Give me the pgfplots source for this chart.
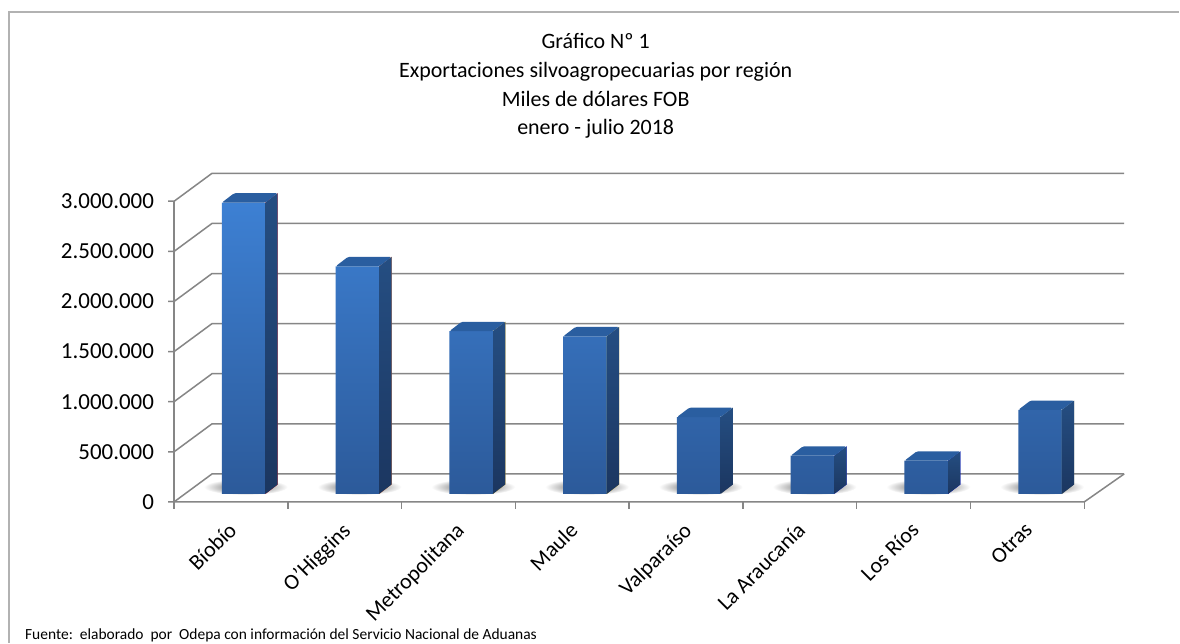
\documentclass[border=0pt]{standalone}
\usepackage{pgfplots}
\pgfplotsset{compat=1.18}
\usepackage{pgfplotstable}
\usepackage{fontspec}
\setmainfont{Carlito}
\usetikzlibrary{calc}

\definecolor{gridgray}{RGB}{134,134,134}
\definecolor{frontTop}{RGB}{61,128,211}
\definecolor{frontBot}{RGB}{44,90,154}
\definecolor{sideTop}{RGB}{37,78,130}
\definecolor{sideBot}{RGB}{27,54,96}
\definecolor{capBlue}{RGB}{42,94,160}

% miles de dolares FOB, enero-julio 2018
\pgfplotstableread{
x v
0 2907000
1 2271000
2 1624000
3 1572000
4 766000
5 381000
6 331000
7 838000
}\exportdata

% bar height in pt from the value (axis: 3.000.000 = 301.3pt)
\newcommand\barheight{%
  \pgfkeys{/pgf/fpu=true,/pgf/fpu/output format=fixed}%
  \pgfmathparse{\barval/3000000*301.3}%
  \let\h\pgfmathresult
  \pgfkeys{/pgf/fpu=false}%
}

\pgfdeclareplotmark{barshadow}{%
  \barheight
  \shade[draw=none, inner color=black!70, outer color=white] (2pt,7pt-\h pt) ellipse [x radius=42pt, y radius=8pt];
}

\pgfdeclareplotmark{barside}{%
  \barheight
  \fill[draw=none, top color=sideTop, bottom color=sideBot] (21.85pt,0pt) -- (34.15pt,9.4pt) -- (34.15pt,9.4pt-\h pt) -- (21.85pt,-\h pt) -- cycle;
  \fill[draw=none, fill=capBlue, rounded corners=1.5pt] (-21.85pt,0pt) -- (21.85pt,0pt) -- (34.15pt,9.4pt) -- (-9.55pt,9.4pt) -- cycle;
}

\pgfplotsset{
  barplane/.style={
    at={(187.2pt,147pt)}, anchor=south west,
    scale only axis, width=912.2pt, height=301.3pt,
    xmin=-0.5, xmax=7.5, ymin=0, ymax=3000000,
    hide axis, clip=false,
  },
}

\begin{document}
\begin{tikzpicture}[gridline/.style={draw=gridgray, line width=1.5pt}]
\fill[white] (0,0) rectangle (1180pt,642pt);
\draw[gray!60, line width=1.3pt] (9pt,-2pt) -- (9pt,630pt) -- (1182pt,630pt);

\node[font=\fontsize{22}{22}\selectfont, anchor=base] at (597pt,593pt) {Gráfico Nº 1};
\node[font=\fontsize{22}{22}\selectfont, anchor=base] at (597pt,564pt) {Exportaciones silvoagropecuarias por región};
\node[font=\fontsize{22}{22}\selectfont, anchor=base] at (597pt,535.5pt) {Miles de dólares FOB};
\node[font=\fontsize{22}{22}\selectfont, anchor=base] at (597pt,507pt) {enero - julio 2018};

\node[font=\fontsize{15.5}{15.5}\selectfont, anchor=base west, inner sep=0pt] at (25pt,1pt)
  {Fuente:\ \ elaborado\ \ por\ \ Odepa con información del Servicio Nacional de Aduanas};

% walls, floor and labels
\begin{axis}[
  at={(174.5pt,139pt)}, anchor=south west,
  scale only axis, width=912.2pt, height=301.3pt,
  xmin=-0.5, xmax=7.5, ymin=0, ymax=3000000,
  clip=false,
  axis line style={draw=none},
  major tick length=0pt,
  xtick={0,1,2,3,4,5,6,7},
  xticklabels={Bíobío, O'Higgins, Metropolitana, Maule, Valparaíso, La Araucanía, Los Ríos, Otras},
  ytick={0,500000,1000000,1500000,2000000,2500000,3000000},
  scaled y ticks=false,
  /pgf/number format/fixed,
  /pgf/number format/precision=0,
  /pgf/number format/1000 sep={.},
  /pgf/number format/assume math mode=true,
  yticklabel style={font=\fontsize{23}{23}\selectfont, anchor=east, inner sep=0pt, xshift=-20pt},
  xticklabel style={font=\fontsize{22}{22}\selectfont, xshift=-4pt, yshift=-19pt, rotate=45, anchor=north east, inner sep=0pt},
]
\pgfplotsinvokeforeach{0,500000,1000000,1500000,2000000,2500000,3000000}{
  \draw[gridline] (axis cs:-0.5,#1) ++(-6pt,0pt) -- (axis cs:-0.5,#1) -- ++(38pt,28pt) -- ($(axis cs:7.5,#1)+(40pt,28pt)$);
}
\draw[gridline] (axis cs:-0.5,0) -- (axis cs:-0.5,3000000);
\draw[gridline] (axis cs:-0.5,0) -- (axis cs:7.5,0) -- ++(40pt,28pt);
\pgfplotsinvokeforeach{-0.5,0.5,1.5,2.5,3.5,4.5,5.5,6.5,7.5}{
  \draw[gridline] (axis cs:#1,0) -- ++(0pt,-7pt);
}
\end{axis}

% shadows on the floor
\begin{axis}[barplane]
\addplot[scatter, only marks, mark=barshadow,
  visualization depends on={rawy \as \barval}]
  table[x=x, y=v] {\exportdata};
\end{axis}

% bars, on the plane of their front faces
\begin{axis}[barplane]
\addplot[ybar, bar width=43.7pt, bar shift=0pt, draw=none,
  top color=frontTop, bottom color=frontBot]
  table[x=x, y=v] {\exportdata};
\addplot[scatter, only marks, mark=barside,
  visualization depends on={rawy \as \barval}]
  table[x=x, y=v] {\exportdata};
\end{axis}
\end{tikzpicture}
\end{document}
